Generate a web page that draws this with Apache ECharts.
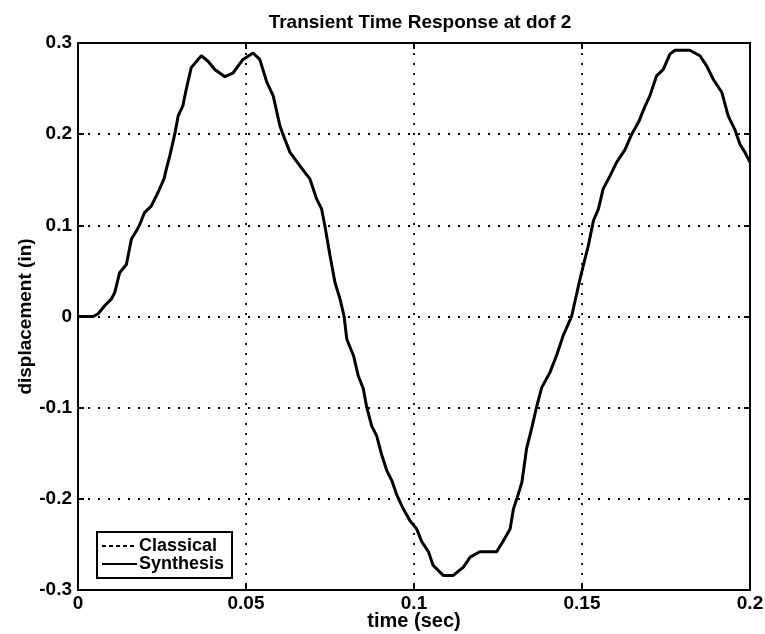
<!DOCTYPE html>
<html>
<head>
<meta charset="utf-8">
<script src="https://cdn.jsdelivr.net/npm/echarts@6/dist/echarts.min.js"></script>
<style>
  html, body { margin: 0; padding: 0; background: #fff; }
  #main { width: 765px; height: 634px; }
</style>
</head>
<body>
<div id="main"></div>
<script>
// time (sec) and displacement (in)
var timeVals = [0, 0.0045, 0.006, 0.008, 0.0099, 0.0109, 0.0124, 0.0144, 0.0159, 0.0174, 0.0184, 0.0198,
  0.0218, 0.0238, 0.0256, 0.0263, 0.0273, 0.0288, 0.0298, 0.0312, 0.0322, 0.0337, 0.0367, 0.0387,
  0.0407, 0.0437, 0.0461, 0.0491, 0.0521, 0.0541, 0.0562, 0.0581, 0.0601, 0.0616, 0.0631, 0.0661,
  0.069, 0.071, 0.0725, 0.0735, 0.075, 0.0765, 0.078, 0.0792, 0.080, 0.082, 0.0834, 0.0849, 0.0859,
  0.0874, 0.0889, 0.0904, 0.0919, 0.0934, 0.0949, 0.0968, 0.0988, 0.1008, 0.1023, 0.1043, 0.1057,
  0.1087, 0.1117, 0.1147, 0.1167, 0.1196, 0.1246, 0.1266, 0.1286, 0.1296, 0.1306, 0.1321, 0.1335,
  0.135, 0.1365, 0.138, 0.1405, 0.1425, 0.1444, 0.1469, 0.1494, 0.1504, 0.1519, 0.1534, 0.1549,
  0.1563, 0.1583, 0.1603, 0.1628, 0.1648, 0.1668, 0.1688, 0.1702, 0.1722, 0.1742, 0.1762, 0.1777,
  0.1821, 0.1851, 0.1871, 0.1891, 0.1916, 0.1935, 0.1955, 0.197, 0.1985, 0.2];
var synthesis = [0, 0, 0.003, 0.012, 0.019, 0.026, 0.048, 0.057, 0.085, 0.094, 0.101, 0.114,
  0.121, 0.136, 0.151, 0.162, 0.176, 0.200, 0.220, 0.231, 0.249, 0.273, 0.286, 0.280,
  0.271, 0.263, 0.267, 0.282, 0.289, 0.282, 0.257, 0.242, 0.209, 0.194, 0.180, 0.165,
  0.151, 0.129, 0.118, 0.099, 0.067, 0.037, 0.019, 0.000, -0.025, -0.043, -0.065, -0.079, -0.099,
  -0.120, -0.131, -0.152, -0.169, -0.180, -0.196, -0.211, -0.224, -0.233, -0.247, -0.258, -0.273,
  -0.284, -0.284, -0.275, -0.264, -0.258, -0.258, -0.246, -0.233, -0.211, -0.200, -0.182, -0.145,
  -0.123, -0.099, -0.078, -0.061, -0.042, -0.021, 0.000, 0.041, 0.056, 0.078, 0.105, 0.118,
  0.140, 0.154, 0.169, 0.183, 0.200, 0.213, 0.231, 0.242, 0.264, 0.271, 0.288, 0.292,
  0.292, 0.286, 0.275, 0.260, 0.246, 0.220, 0.205, 0.189, 0.180, 0.169];
// the classical curve lies exactly under the synthesis one
var classical = synthesis.slice();

var xTickLabels = ['0', '0.05', '0.1', '0.15', '0.2'];
var yTickLabels = ['-0.3', '-0.2', '-0.1', '0', '0.1', '0.2', '0.3'];

function pairs(xs, ys) {
  var out = [];
  for (var i = 0; i < xs.length; i++) {
    out.push([xs[i], ys[i]]);
  }
  return out;
}

var font = '"Liberation Sans", Arial, sans-serif';
var dotted = { color: '#000', width: 1.8, type: [2, 8] };
var blackLine = { color: '#000', width: 2 };
var tick = { show: true, inside: true, length: 6, lineStyle: { color: '#000', width: 2 } };

var myChart = echarts.init(document.getElementById('main'));
var option = {
  animation: false,
  backgroundColor: '#fff',
  title: {
    text: 'Transient Time Response at dof 2',
    left: 415, top: 8, textAlign: 'center',
    textStyle: { fontFamily: font, fontSize: 19, fontWeight: 'bold', color: '#000' }
  },
  grid: {
    left: 78, right: 15, top: 43, bottom: 44, outerBoundsMode: 'none', containLabel: false,
    show: true, borderColor: '#000', borderWidth: 2, backgroundColor: 'transparent'
  },
  legend: {
    left: 97, top: 532, orient: 'vertical',
    itemGap: 0, itemWidth: 35, itemHeight: 15,
    padding: [5, 8, 5, 4],
    borderColor: '#000', borderWidth: 2,
    itemStyle: { opacity: 0 },
    textStyle: { fontFamily: font, fontSize: 18, fontWeight: 'bold', color: '#000', lineHeight: 15, padding: [0, 0, 0, -3] },
    data: ['Classical', 'Synthesis']
  },
  xAxis: [{
    type: 'value', min: 0, max: 0.2, interval: 0.05,
    name: 'time (sec)', nameLocation: 'middle', nameGap: 21, nameMoveOverlap: false,
    nameTextStyle: { fontFamily: font, fontSize: 20, fontWeight: 'bold', color: '#000' },
    axisLine: { show: true, onZero: false, lineStyle: blackLine },
    axisTick: tick,
    axisLabel: {
      fontFamily: font, fontSize: 19, fontWeight: 'bold', color: '#000', margin: 4,
      formatter: function (v, i) { return xTickLabels[i]; }
    },
    splitLine: { show: true, lineStyle: dotted }
  }, {
    type: 'value', position: 'top', min: 0, max: 0.2, interval: 0.05,
    axisLine: { show: true, onZero: false, lineStyle: blackLine },
    axisTick: tick, axisLabel: { show: false }, splitLine: { show: false }
  }],
  yAxis: [{
    type: 'value', min: -0.3, max: 0.3, interval: 0.1,
    name: 'displacement (in)', nameLocation: 'middle', nameGap: 43, nameMoveOverlap: false,
    nameTextStyle: { fontFamily: font, fontSize: 19, fontWeight: 'bold', color: '#000' },
    axisLine: { show: true, onZero: false, lineStyle: blackLine },
    axisTick: tick,
    axisLabel: {
      fontFamily: font, fontSize: 19, fontWeight: 'bold', color: '#000', margin: 6,
      formatter: function (v, i) { return yTickLabels[i]; }
    },
    splitLine: { show: true, lineStyle: dotted }
  }, {
    type: 'value', position: 'right', min: -0.3, max: 0.3, interval: 0.1,
    axisLine: { show: true, onZero: false, lineStyle: blackLine },
    axisTick: tick, axisLabel: { show: false }, splitLine: { show: false }
  }],
  series: [
    {
      name: 'Classical', type: 'line', showSymbol: false, symbol: 'none',
      lineStyle: { color: '#000', width: 1.5, type: [4, 3] },
      itemStyle: { color: '#000' },
      data: pairs(timeVals, classical)
    },
    {
      name: 'Synthesis', type: 'line', showSymbol: false, symbol: 'none',
      lineStyle: { color: '#000', width: 3 },
      itemStyle: { color: '#000' },
      data: pairs(timeVals, synthesis)
    }
  ]
};
myChart.setOption(option);
</script>
</body>
</html>
